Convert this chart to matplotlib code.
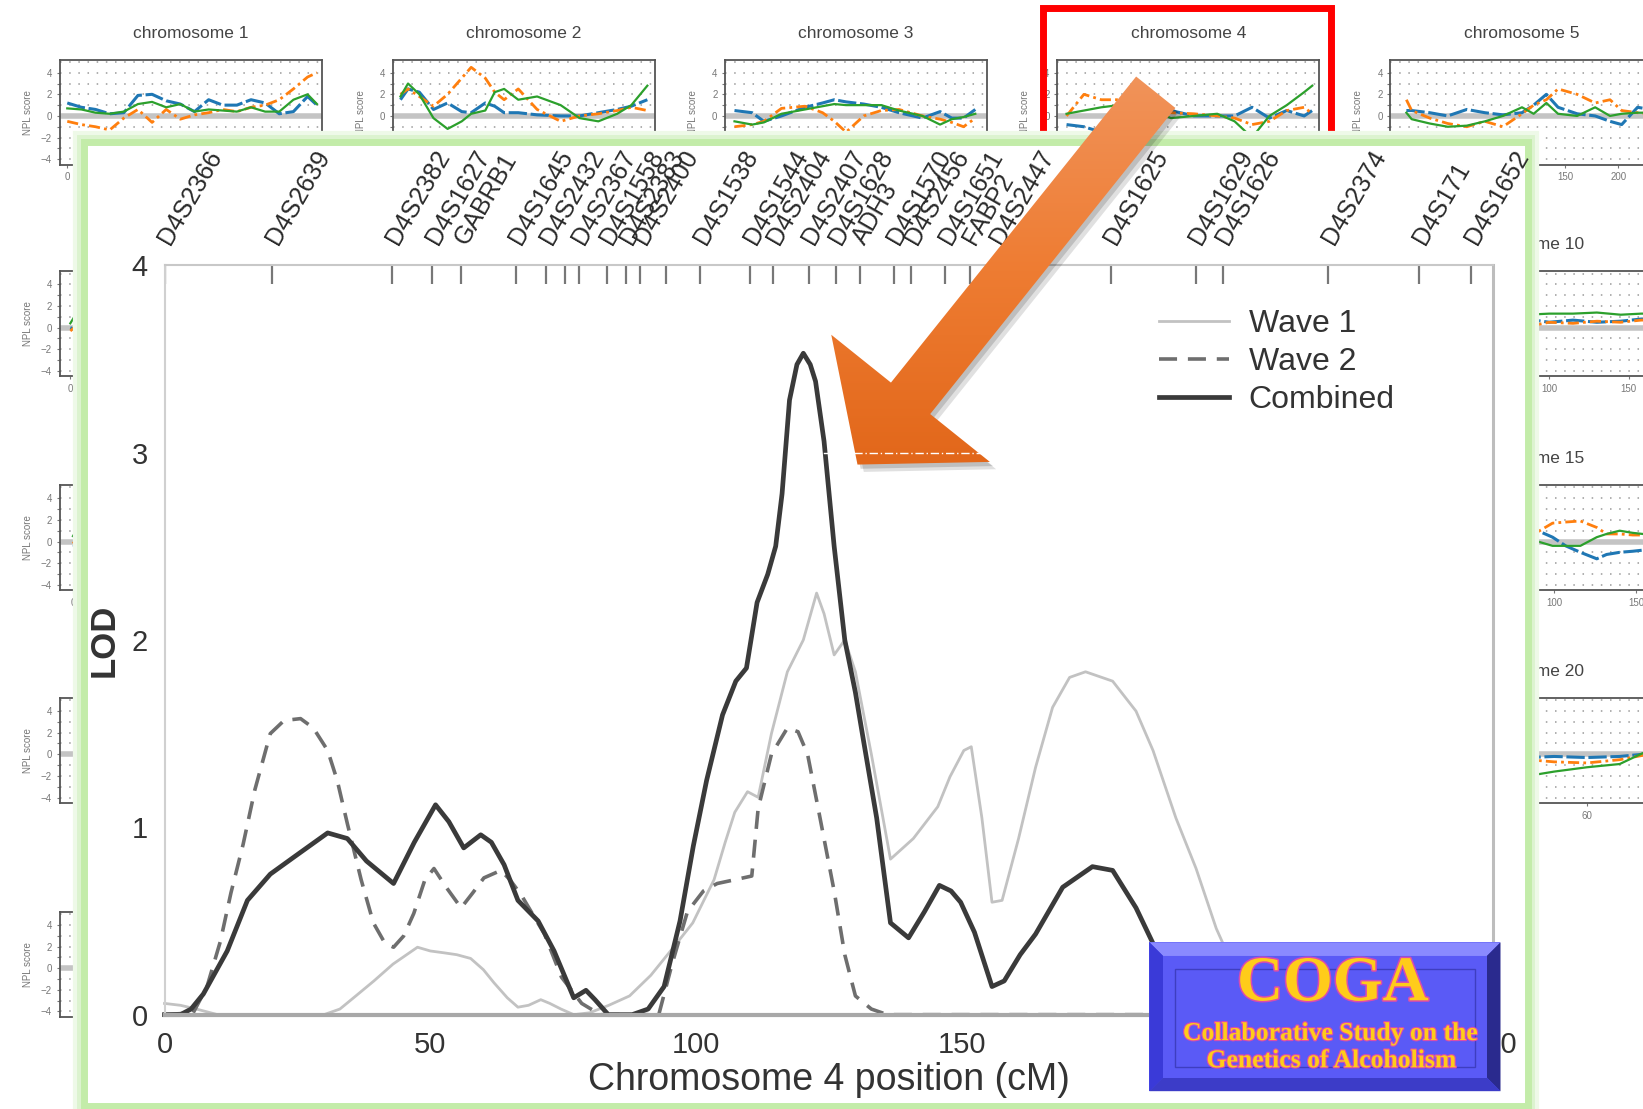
import numpy as np
import matplotlib as mpl
mpl.use('Agg')
import matplotlib.pyplot as plt
from matplotlib.patches import Rectangle, Polygon
from matplotlib.lines import Line2D
import matplotlib.patheffects as pe
import matplotlib.transforms as mtrans

plt.rcParams['font.family'] = ['Liberation Sans', 'DejaVu Sans']

# ---------------- main chromosome 4 LOD curves ----------------
comb_cm = [0, 3, 5, 7.3, 11.8, 15.6, 19.9, 24.3, 30.7, 34.4, 38, 43.1, 47, 51, 53.5, 56.3,
           59.5, 61.5, 63.9, 66.5, 70.3, 73.3, 77, 79.3, 81, 83.5, 88, 91, 94, 97, 99.5,
           102, 105, 107.5, 109.5, 111.5, 113.5, 115, 116.2, 117.6, 119, 120.2, 121.5,
           122.5, 124.1, 126, 128, 130, 131.6, 134, 136.6, 140, 143, 145.8, 148, 149.8,
           152.4, 155.7, 158, 161, 163.9, 169, 174.6, 178.4, 182.8, 186, 190, 195, 200, 250]
comb_lod = [0, 0, 0.03, 0.11, 0.34, 0.61, 0.75, 0.84, 0.97, 0.94, 0.82, 0.70, 0.92, 1.12,
            1.03, 0.89, 0.96, 0.92, 0.80, 0.61, 0.50, 0.34, 0.09, 0.13, 0.08, 0.0, 0.0, 0.03,
            0.15, 0.5, 0.9, 1.25, 1.6, 1.78, 1.85, 2.2, 2.35, 2.5, 2.78, 3.28, 3.47, 3.53,
            3.47, 3.38, 3.06, 2.5, 2.0, 1.72, 1.45, 1.05, 0.49, 0.41, 0.55, 0.69, 0.66, 0.6,
            0.44, 0.15, 0.18, 0.32, 0.43, 0.68, 0.79, 0.77, 0.57, 0.38, 0.15, 0.05, 0.0, 0.0]

wave2_cm = [0, 5.4, 8, 10.5, 12.5, 14.8, 17, 19.9, 22.5, 25.6, 28, 30.7, 32.5, 34.4, 37,
            39.3, 41.5, 43.1, 45, 46.9, 49, 50.7, 53, 55.8, 58, 60.1, 63.3, 65, 67.1, 71.5,
            74.7, 78.5, 82, 93, 95.5, 98.4, 101.4, 104, 107.3, 110.5, 111.7, 114.2, 117.2,
            119.2, 121, 123, 126, 128, 130, 133, 136, 250]
wave2_lod = [0, 0.01, 0.15, 0.39, 0.65, 0.91, 1.2, 1.50, 1.57, 1.58, 1.53, 1.41, 1.25, 1.02,
             0.72, 0.49, 0.38, 0.36, 0.42, 0.54, 0.72, 0.78, 0.68, 0.57, 0.65, 0.73, 0.77,
             0.72, 0.64, 0.43, 0.20, 0.06, 0.0, 0.0, 0.27, 0.55, 0.66, 0.70, 0.72, 0.74, 1.1,
             1.39, 1.53, 1.51, 1.39, 1.1, 0.66, 0.32, 0.1, 0.03, 0.0, 0.0]

wave1_cm = [0, 3, 6, 10, 30, 33, 36, 39.4, 43, 47.6, 50, 52.6, 55, 57.6, 60, 62, 64.5, 66.5,
            68.5, 70.8, 72.5, 74.6, 77, 80, 83.6, 87.5, 91.5, 95.5, 99.4, 103.4, 105.5, 107.3,
            109.7, 111.7, 114.2, 117.2, 120.2, 122.7, 124.1, 126, 128, 130, 133, 136.6, 140.9,
            145.5, 147.8, 150.4, 151.8, 153.8, 155.7, 157.6, 160.7, 163.9, 167.1, 170.3,
            173.3, 178.4, 182.8, 186, 190.3, 194.1, 197.9, 202, 206, 210, 250]
wave1_lod = [0.06, 0.05, 0.03, 0.0, 0.0, 0.03, 0.1, 0.18, 0.27, 0.36, 0.34, 0.33, 0.32, 0.30,
             0.24, 0.17, 0.09, 0.04, 0.05, 0.08, 0.06, 0.03, 0.0, 0.01, 0.05, 0.1, 0.21, 0.35,
             0.49, 0.72, 0.92, 1.08, 1.19, 1.16, 1.5, 1.83, 2.0, 2.25, 2.14, 1.92, 2.0, 1.83,
             1.39, 0.83, 0.94, 1.11, 1.27, 1.41, 1.43, 1.05, 0.6, 0.61, 0.94, 1.32, 1.64, 1.80,
             1.83, 1.78, 1.62, 1.41, 1.05, 0.78, 0.46, 0.2, 0.05, 0.0, 0.0]

marker_names = ['D4S2366', 'D4S2639', 'D4S2382', 'D4S1627', 'GABRB1', 'D4S1645', 'D4S2432',
                'D4S2367', 'D4S1558', 'D4S2383', 'D4S2400', 'D4S1538', 'D4S1544', 'D4S2404',
                'D4S2407', 'D4S1628', 'ADH3', 'D4S1570', 'D4S2456', 'D4S1651', 'FABP2',
                'D4S2447', 'D4S1625', 'D4S1629', 'D4S1626', 'D4S2374', 'D4S171', 'D4S1652']
marker_cm = [0, 20.2, 42.8, 50.3, 55.8, 66.1, 71.8, 77.9, 83.2, 86.9, 89.5, 100.8, 110.2,
             114.5, 121.2, 126.3, 130.8, 137.2, 140.5, 146.9, 151.5, 156.5, 178.0, 194.0,
             199.1, 218.9, 236.1, 245.8]
extra_ticks = [75.3, 94.3]

# ---------------- background genome scan panels (NPL score) ----------------
chr1_pos = [0, 15, 30, 45, 60, 75, 90, 105, 120, 135, 150, 165, 180, 195, 210, 225, 240, 255, 265]
chr1_blue = [1.2, 0.8, 0.6, 0.2, 0.3, 1.9, 2.0, 1.4, 1.1, 0.4, 1.5, 1.0, 1.0, 1.5, 1.2, 0.2, 0.4, 1.8, 1.0]
chr1_orange = [-0.5, -0.8, -1.0, -1.3, -0.2, 0.6, -0.6, 0.6, -0.3, 0.1, 0.3, 0.6, 0.4, 0.8, 1.0, 1.5, 2.5, 3.6, 4.0]
chr1_green = [0.7, 0.6, 0.3, 0.2, 0.4, 1.1, 1.3, 0.8, 1.1, 0.4, 0.6, 0.5, 0.4, 0.8, 0.4, 0.4, 1.5, 2.0, 1.1]

chr2_pos = [0, 8, 20, 35, 50, 65, 75, 90, 100, 110, 125, 145, 170, 190, 210, 230, 245, 262]
chr2_blue = [1.5, 2.5, 2.2, 0.6, 1.2, 0.4, 0.3, 1.2, 0.9, 0.3, 0.3, 0.1, 0.0, 0.0, 0.3, 0.6, 0.9, 1.5]
chr2_orange = [2.0, 2.5, 1.8, 0.9, 2.0, 3.5, 4.5, 3.5, 2.2, 1.5, 2.5, 0.6, -0.5, 0.0, 0.2, 0.5, 0.8, 0.5]
chr2_green = [1.8, 3.0, 2.0, -0.2, -1.2, -0.5, 0.2, 0.5, 2.2, 2.5, 1.5, 1.8, 1.0, -0.2, -0.5, 0.2, 1.0, 2.8]

chr3_pos = [0, 15, 25, 40, 60, 75, 85, 95, 110, 125, 140, 160, 175, 185, 195, 205]
chr3_blue = [0.5, 0.3, -0.5, 0.0, 0.8, 1.2, 1.5, 1.3, 1.1, 0.8, 0.3, -0.2, 0.4, -0.2, -0.2, 0.6]
chr3_orange = [-1.0, -0.8, -0.5, 0.7, 0.9, 0.3, -0.5, -1.5, 0.0, 0.5, 0.6, 0.0, -0.3, -0.6, -1.0, -0.2]
chr3_green = [-0.5, -0.8, -0.6, 0.2, 0.6, 0.9, 1.1, 1.0, 1.0, 1.0, 0.5, 0.0, -0.8, -0.3, -0.1, 0.2]

chr4_pos = [0, 15, 30, 45, 60, 75, 90, 110, 130, 145, 160, 175, 190, 205, 212]
chr4_blue = [-0.8, -1.0, -1.5, -1.2, -0.3, 0.3, 0.5, 0.0, 0.0, 0.0, 0.8, -0.2, 0.5, 0.0, 0.5]
chr4_orange = [0.0, 2.0, 1.5, 1.5, 1.0, 0.5, 0.3, 0.2, 0.0, -0.2, -0.8, -0.5, 0.5, 0.8, 0.2]
chr4_green = [0.2, 0.5, 0.8, 1.0, 0.8, 0.5, -0.2, 0.0, 0.2, -0.5, -2.0, 0.0, 1.0, 2.2, 2.8]

chr5_pos = [0, 5, 22, 39, 57, 74, 91, 109, 120, 132, 143, 161, 178, 192, 203, 218, 230]
chr5_blue = [0.5, 0.5, 0.3, 0.0, 0.6, 0.3, 0.1, 0.3, 1.0, 2.0, 0.8, 0.2, 0.0, -0.5, -0.8, 0.8, 0.6]
chr5_orange = [1.5, 0.5, -0.2, -0.7, -1.0, -0.5, -1.0, 0.2, 1.0, 1.5, 2.5, 2.0, 1.2, 1.5, 0.5, 0.3, 0.2]
chr5_green = [0.3, -0.3, -0.7, -1.0, -0.9, -0.5, 0.0, 0.8, 0.2, 1.2, 0.2, 0.0, 0.8, 0.0, 0.2, 0.3, 0.3]

chr6_pos = [0, 4, 8, 12, 20, 40]
chr6_blue = [0.0, -0.2, 0.3, 0.1, 0.2, 0.3]
chr6_orange = [-0.3, 0.1, -0.4, 0.2, 0.0, 0.1]
chr6_green = [0.4, 1.2, 0.8, 1.3, 0.5, 0.4]

chr10_pos = [0, 40, 86, 100, 115, 130, 145, 158, 165]
chr10_blue = [0.3, 0.5, 0.8, 0.5, 0.7, 0.5, 0.6, 0.8, 0.8]
chr10_orange = [0.0, 0.2, 0.1, 0.5, 0.4, 0.6, 0.5, 0.7, 0.7]
chr10_green = [0.5, 0.8, 1.2, 1.3, 1.3, 1.4, 1.2, 1.3, 1.3]

chr11_pos = [0, 4, 8, 12, 20, 40]
chr11_blue = [-0.5, -0.3, -0.6, 0.2, 0.0, 0.0]
chr11_orange = [0.0, -0.8, 0.2, -0.3, 0.0, 0.0]
chr11_green = [0.5, 1.5, 0.8, 1.2, 0.4, 0.3]

chr15_pos = [0, 40, 83, 90, 99, 107, 116, 126, 132, 140, 148, 154, 160]
chr15_blue = [0.3, 0.6, 1.4, 1.0, 0.4, -0.4, -1.0, -1.6, -1.2, -1.0, -0.9, -0.8, -0.7]
chr15_orange = [0.2, 0.4, 0.6, 0.9, 1.7, 1.8, 1.9, 1.3, 0.7, 0.7, 0.6, 0.6, 0.6]
chr15_green = [0.3, 0.5, 0.4, 0.0, -0.4, -0.4, -0.4, 0.4, 0.7, 1.0, 0.8, 0.7, 0.7]

chr16_pos = [0, 4, 8, 12, 20, 40]
chr16_blue = [0.0, -0.3, 0.2, 0.5, 0.1, 0.0]
chr16_orange = [-0.2, -1.2, 0.4, 1.0, 0.2, 0.0]
chr16_green = [0.3, 1.5, 0.6, 1.8, 0.5, 0.2]

chr20_pos = [0, 20, 42, 50, 60, 70, 77, 80]
chr20_blue = [0.0, -0.2, -0.3, -0.2, -0.3, -0.2, 0.0, 0.0]
chr20_orange = [0.0, -0.3, -0.5, -0.7, -0.8, -0.5, -0.1, 0.0]
chr20_green = [0.0, -1.5, -2.0, -1.6, -1.2, -0.9, 0.1, 0.2]

chr21_pos = [0, 4, 8, 12, 20, 40]
chr21_blue = [0.0, 0.2, 0.4, 0.6, 0.3, 0.1]
chr21_orange = [0.1, 0.5, 0.8, 1.0, 0.5, 0.0]
chr21_green = [0.0, -0.2, 0.3, 0.9, 0.5, 0.2]

# (chromosome, column, row, xlim, x tick step, data)
panels = [
    (1, 0, 0, (-8, 270), 50, chr1_pos, chr1_blue, chr1_orange, chr1_green),
    (2, 1, 0, (-8, 270), 50, chr2_pos, chr2_blue, chr2_orange, chr2_green),
    (3, 2, 0, (-8, 215), 50, chr3_pos, chr3_blue, chr3_orange, chr3_green),
    (4, 3, 0, (-8, 218), 50, chr4_pos, chr4_blue, chr4_orange, chr4_green),
    (5, 4, 0, (-15, 232), 50, chr5_pos, chr5_blue, chr5_orange, chr5_green),
    (6, 0, 1, (-8, 190), 50, chr6_pos, chr6_blue, chr6_orange, chr6_green),
    (10, 4, 1, (0, 165), 50, chr10_pos, chr10_blue, chr10_orange, chr10_green),
    (11, 0, 2, (-8, 150), 50, chr11_pos, chr11_blue, chr11_orange, chr11_green),
    (15, 4, 2, (0, 160), 50, chr15_pos, chr15_blue, chr15_orange, chr15_green),
    (16, 0, 3, (-8, 130), 50, chr16_pos, chr16_blue, chr16_orange, chr16_green),
    (20, 4, 3, (0, 80), 20, chr20_pos, chr20_blue, chr20_orange, chr20_green),
    (21, 0, 4, (-8, 70), 20, chr21_pos, chr21_blue, chr21_orange, chr21_green),
]

W, H = 1568.0, 1058.0   # layout measured in the shrunk reference


def rect(x0, y0, w, h):
    return [x0 / W, 1 - (y0 + h) / H, w / W, h / H]


fig = plt.figure(figsize=(16.43, 11.09), dpi=100)
fig.patch.set_facecolor('white')

col_x = [57, 375, 692, 1009, 1327]
row_y = [57, 259, 463, 666, 870]

for chrom, c, r, xl, step, pos, blue, orange, green in panels:
    a = fig.add_axes(rect(col_x[c], row_y[r], 250, 100))
    a.axhline(0, color='#c4c4c4', lw=4, zorder=1)
    for yy in range(-4, 6):
        a.axhline(yy, color='#9a9a9a', lw=1.1, ls=(0, (1, 5)), zorder=0.5)
    a.plot(pos, blue, color='#1f77b4', lw=2.2, ls=(0, (6, 1.2)), zorder=3)
    a.plot(pos, orange, color='#ff7f0e', lw=2.0, ls=(0, (4, 1.5, 1, 1.5)), zorder=3)
    a.plot(pos, green, color='#2ca02c', lw=1.6, zorder=3)
    a.set_yticks([-4, -2, 0, 2, 4])
    a.set_yticks(range(-4, 5), minor=True)
    a.set_xticks(range(0, 300, step))
    a.set_xlim(*xl)
    a.set_ylim(-4.5, 5.2)
    a.tick_params(labelsize=7, colors='#777', length=2, width=0.8, which='both')
    for s in a.spines.values():
        s.set_color('#555')
        s.set_linewidth(1.3)
    a.set_ylabel('NPL score', fontsize=7, color='#777', labelpad=6)
    if c == 0 and r > 0:
        continue    # title and axis name sit under the main panel
    a.set_title('chromosome %d' % chrom, fontsize=12.5, color='#444', pad=16)
    a.set_xlabel('distance', fontsize=7, color='#888', labelpad=4)

# red highlight box and the white main panel with green glow
low = fig.add_axes([0, 0, 1, 1])
low.set_xlim(0, W)
low.set_ylim(H, 0)
low.axis('off')
low.set_zorder(5)
low.add_patch(Rectangle((995, 8), 275, 160, fill=False, edgecolor='#ff0000', lw=5))
for lw, col in [(16, '#eef9e8'), (10, '#dcf3cf'), (5, '#c3eca9')]:
    low.add_patch(Rectangle((80, 135), 1378, 920, facecolor='white', edgecolor=col, lw=lw))

# main LOD plot
ax = fig.add_axes(rect(157, 253, 1268, 715))
ax.set_zorder(6)
ax.patch.set_alpha(0)
ax.plot(wave1_cm, wave1_lod, color='#c2c2c2', lw=2.0, label='Wave 1', clip_on=False)
ax.plot(wave2_cm, wave2_lod, color='#6e6e6e', lw=2.6, ls=(0, (5, 3)), label='Wave 2', clip_on=False)
ax.plot(comb_cm, comb_lod, color='#3a3a3a', lw=3.4, label='Combined', clip_on=False)
ax.set_xticks([0, 50, 100, 150, 200, 250])
ax.set_yticks([0, 1, 2, 3, 4])
ax.set_xlim(0, 250)
ax.set_ylim(0, 4)
ax.tick_params(length=0, labelsize=21, labelcolor='#333', pad=12)
ax.spines['left'].set_color('#d0d0d0')
ax.spines['left'].set_linewidth(1.5)
ax.spines['top'].set_color('#c8c8c8')
ax.spines['top'].set_linewidth(1.5)
ax.spines['right'].set_color('#bdbdbd')
ax.spines['right'].set_linewidth(2.2)
ax.spines['bottom'].set_color('#a8a8a8')
ax.spines['bottom'].set_linewidth(3)
ax.set_xlabel('Chromosome 4 position (cM)', fontsize=27, color='#333', labelpad=2)
ax.set_ylabel('LOD', fontsize=25, fontweight='bold', color='#333', labelpad=8)

ax.vlines(marker_cm + extra_ticks, 0.975, 1.0, transform=ax.get_xaxis_transform(),
          color='#777', lw=1.6)
lab_tr = mtrans.offset_copy(ax.get_xaxis_transform(), fig=fig, x=10, y=0, units='dots')
for name, cm in zip(marker_names, marker_cm):
    ax.text(cm, 1.022, name, transform=lab_tr, rotation=60,
            rotation_mode='anchor', ha='left', va='bottom', fontsize=18, color='#2a2a2a')

leg = ax.legend(loc='upper left', bbox_to_anchor=(0.727, 0.98), frameon=False,
                fontsize=23, handlelength=2.2, labelspacing=0.25, handletextpad=0.6)
for t in leg.get_texts():
    t.set_color('#333')

# arrow, threshold dashes and COGA badge on top
top = fig.add_axes([0, 0, 1, 1])
top.set_xlim(0, W)
top.set_ylim(H, 0)
top.axis('off')
top.set_zorder(7)

B = np.array([869.0, 380.0])
T = np.array([1103.0, 88.0])
u = (T - B) / np.hypot(*(T - B))
n = np.array([-u[1], u[0]])
if n[0] < 0:
    n = -n
tip = B - 81 * u
pts = np.array([tip, B + 97 * n, B + 24 * n, T + 24 * n, T - 24 * n, B - 24 * n, B - 97 * n])
top.add_patch(Polygon(pts + [6, 7], closed=True, facecolor='black', alpha=0.12,
                      edgecolor='none', zorder=1))
top.add_patch(Polygon(pts + [3, 4], closed=True, facecolor='black', alpha=0.15,
                      edgecolor='none', zorder=1))
clip = Polygon(pts, closed=True, facecolor='none', edgecolor='none', zorder=2)
top.add_patch(clip)
grad = np.linspace(0, 1, 256)[:, None]
cmap = mpl.colors.LinearSegmentedColormap.from_list('arr', ['#f1935a', '#ee7c32', '#e2671a'])
im = top.imshow(grad, cmap=cmap, aspect='auto', zorder=3,
                extent=(pts[:, 0].min(), pts[:, 0].max(), pts[:, 1].max(), pts[:, 1].min()))
im.set_clip_path(clip)
top.set_xlim(0, W)
top.set_ylim(H, 0)
top.add_line(Line2D([121, 156], [3, 3], transform=ax.transData, color='white', lw=1,
                    ls=(0, (6, 2, 1, 2)), zorder=4))

# COGA badge
bx0, by0, bx1, by1, bev = 1097, 899, 1432, 1041, 13
zb = 5
top.add_patch(Rectangle((bx0, by0), bx1 - bx0, by1 - by0, facecolor='#4b4bef',
                        edgecolor='none', zorder=zb))
top.add_patch(Polygon([(bx0, by0), (bx1, by0), (bx1 - bev, by0 + bev), (bx0 + bev, by0 + bev)],
                      facecolor='#8a8aff', edgecolor='none', zorder=zb))
top.add_patch(Polygon([(bx0, by0), (bx0 + bev, by0 + bev), (bx0 + bev, by1 - bev), (bx0, by1)],
                      facecolor='#3a3ad8', edgecolor='none', zorder=zb))
top.add_patch(Polygon([(bx1, by0), (bx1, by1), (bx1 - bev, by1 - bev), (bx1 - bev, by0 + bev)],
                      facecolor='#2a2a8e', edgecolor='none', zorder=zb))
top.add_patch(Polygon([(bx0, by1), (bx1, by1), (bx1 - bev, by1 - bev), (bx0 + bev, by1 - bev)],
                      facecolor='#3c3cc8', edgecolor='none', zorder=zb))
top.add_patch(Rectangle((bx0 + bev, by0 + bev), bx1 - bx0 - 2 * bev, by1 - by0 - 2 * bev,
                        facecolor='#5a5af6', edgecolor='none', zorder=zb))
top.add_patch(Rectangle((1121, 924), 287, 94, fill=False, edgecolor='#3e3ec0', lw=1, zorder=zb))
glow = [pe.withStroke(linewidth=2.2, foreground='#d84bb0')]
top.text(1272, 940, 'COGA', fontsize=46, fontweight='bold', family='Liberation Serif',
         color='#ffcc1a', ha='center', va='center', path_effects=glow, zorder=6)
sub_glow = [pe.withStroke(linewidth=1.6, foreground='#d84bb0')]
top.text(1270, 986, 'Collaborative Study on the', fontsize=18.5, fontweight='bold',
         family='Liberation Serif', color='#ffcc1a', ha='center', va='center',
         path_effects=sub_glow, zorder=6)
top.text(1271, 1012, 'Genetics of Alcoholism', fontsize=18.5, fontweight='bold',
         family='Liberation Serif', color='#ffcc1a', ha='center', va='center',
         path_effects=sub_glow, zorder=6)

fig.savefig('out.png', dpi=100, facecolor='white')
